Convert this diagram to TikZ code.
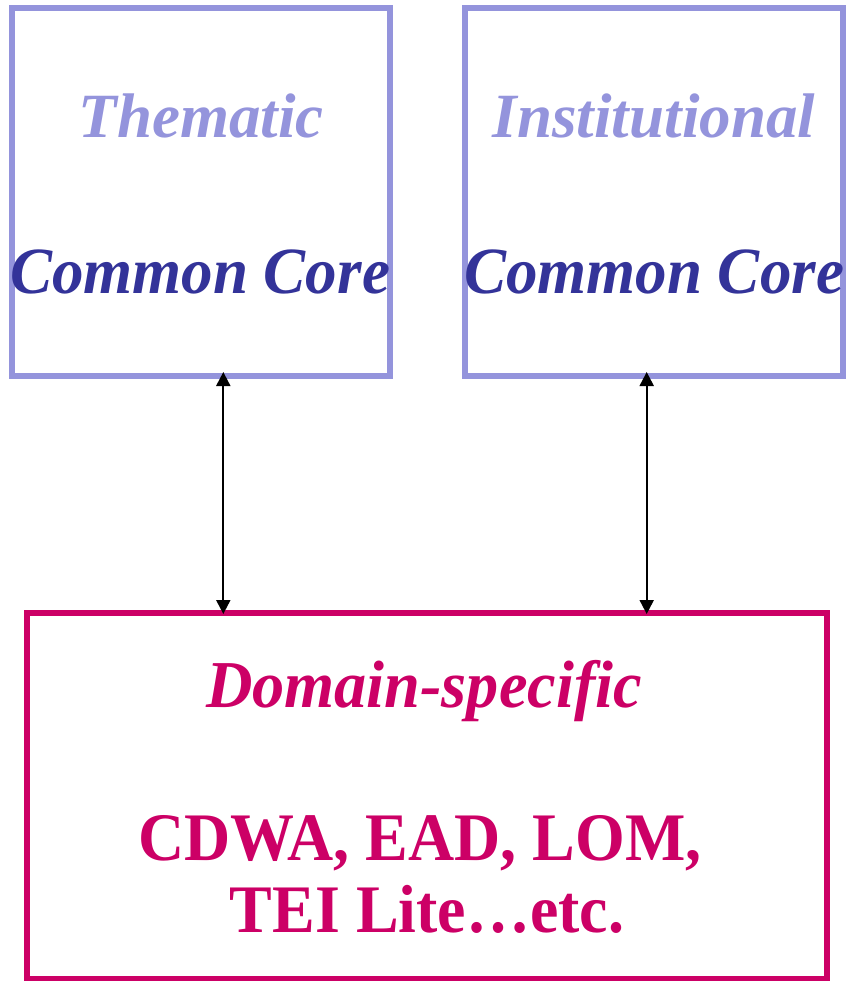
\documentclass[tikz,border=0pt]{standalone}
\usepackage{fontspec}
\setmainfont{Liberation Serif}
\usetikzlibrary{arrows.meta}

\definecolor{lavender}{RGB}{148,148,220}
\definecolor{coreblue}{RGB}{51,51,153}
\definecolor{dommagenta}{RGB}{204,0,102}

\begin{document}
\begin{tikzpicture}[x=1pt,y=-1pt,
		corebox/.style={draw=lavender,line width=6pt,outer sep=0pt,inner sep=0pt,minimum width=378pt,minimum height=368pt},
		dombox/.style={draw=dommagenta,line width=6pt,outer sep=0pt,inner sep=0pt,minimum width=800pt,minimum height=366pt},
		kind/.style={anchor=base,inner sep=0pt,text=lavender,font=\fontsize{63}{66}\selectfont\bfseries\itshape},
		core/.style={anchor=base,inner sep=0pt,text=coreblue,xscale=0.955,font=\fontsize{66}{70}\selectfont\bfseries\itshape},
		domhead/.style={anchor=base,inner sep=0pt,text=dommagenta,xscale=0.96,font=\fontsize{67}{70}\selectfont\bfseries\itshape},
		schema/.style={anchor=base,inner sep=0pt,text=dommagenta,xscale=0.94,font=\fontsize{68}{72}\selectfont\bfseries},
		link/.style={line width=2pt,{Triangle[length=14pt,width=14pt]}-{Triangle[length=14pt,width=14pt]},shorten <=-4pt,shorten >=-1pt}]
	\useasboundingbox (0,0) rectangle (845,981);

	\node[corebox]	(them)	at (201,192)	{};
	\node[corebox]	(inst)	at (654.4,192)	{};
	\node[dombox]	(dom)	at (427,796)	{};

	\node[kind]		(themtitle)	at (201,138)	{Thematic};
	\node[core]		(themcore)	at (200,293)	{Common Core};
	\node[kind]		(insttitle)	at (654,138)	{Institutional};
	\node[core]		(instcore)	at (654,293)	{Common Core};

	\node[domhead]	(domtitle)	at (424,707)	{Domain-specific};
	\node[schema]	(domlist)	at (420,860)	{CDWA, EAD, LOM,};
	\node[schema]	(domlast)	at (427,932)	{TEI Lite…etc.};

	\draw[link]	([xshift=22.3pt]them.south)	--	([xshift=22.3pt]them.south |- dom.north);
	\draw[link]	([xshift=-7.7pt]inst.south)	--	([xshift=-7.7pt]inst.south |- dom.north);
\end{tikzpicture}
\end{document}
